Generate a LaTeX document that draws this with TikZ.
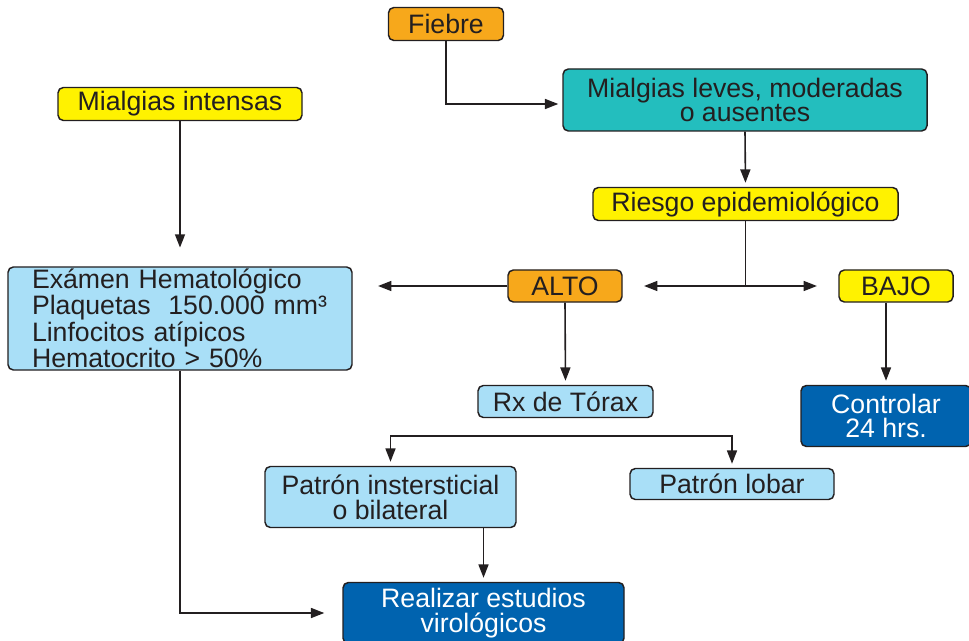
\documentclass[tikz,border=0pt]{standalone}
\usepackage{fontspec}
\setmainfont{Liberation Sans}
\usepackage{xcolor}
\usetikzlibrary{arrows.meta}
\definecolor{naranja}{HTML}{F7A81B}
\definecolor{turquesa}{HTML}{23BEBE}
\definecolor{amarillo}{HTML}{FFF200}
\definecolor{celeste}{HTML}{A9DFF7}
\definecolor{azul}{HTML}{0063AF}
\definecolor{linea}{HTML}{231F20}

\begin{document}
\begin{tikzpicture}[x=0.75pt,y=-0.75pt,
        caja/.style={draw=linea,line width=1.1pt,rounded corners=4pt,text=linea,align=center,
            inner sep=0pt,font=\fontsize{20}{18.5}\selectfont},
        oscura/.style={caja,fill=azul,text=white},
        flecha/.style={draw=linea,line width=1.2pt,-{Triangle[length=10pt,width=7.5pt]},shorten >=3pt}]
        \useasboundingbox (0,0) rectangle (969,641);
        \clip (0,0) rectangle (969,641);
        % cajas
        \node[caja,fill=naranja,minimum width=86.25pt,minimum height=24.75pt] (fiebre) at (446,24) {Fiebre};
        \node[caja,fill=turquesa,minimum width=273pt,minimum height=46.5pt] (mleves) at (745,100) {Mialgias leves, moderadas\\o ausentes};
        \node[caja,fill=amarillo,minimum width=183pt,minimum height=24.75pt] (mint) at (180,104) {Mialgias intensas};
        \node[caja,fill=amarillo,minimum width=228.75pt,minimum height=24.75pt] (riesgo) at (745.5,204) {Riesgo epidemiológico};
        \node[caja,fill=naranja,minimum width=85.5pt,minimum height=24pt] (alto) at (565,286) {ALTO};
        \node[caja,fill=amarillo,minimum width=85.5pt,minimum height=24pt] (bajo) at (896,286) {BAJO};
        \node[caja,fill=celeste,align=left,text width=222pt,inner xsep=18pt,minimum height=77.25pt] (exam) at (180,318.5)
            {Exámen Hematológico\\Plaquetas\ \ 150.000 mm³\\Linfocitos atípicos\\Hematocrito > 50\%};
        \node[caja,fill=celeste,minimum width=131.25pt,minimum height=24pt] (rx) at (565.5,401.5) {Rx de Tórax};
        \node[caja,fill=celeste,minimum width=188.25pt,minimum height=45.75pt] (pint) at (390.5,497) {Patrón instersticial\\o bilateral};
        \node[caja,fill=celeste,minimum width=153pt,minimum height=23.25pt] (plob) at (732,484) {Patrón lobar};
        \node[oscura,minimum width=127.5pt,minimum height=45.75pt] (ctrl) at (886,416) {Controlar\\24 hrs.};
        \node[oscura,minimum width=210.75pt,minimum height=45.75pt] (real) at (483.5,613) {Realizar estudios\\virológicos};
        \coordinate (rama) at (565,436);
        % flechas
        \draw[flecha] (fiebre.south) |- ([yshift=-3pt]mleves.west);
        \draw[flecha] (mleves.south) -- (riesgo.north);
        \draw[flecha,shorten >=16pt] (riesgo.south) |- (alto.east);
        \draw[flecha,shorten >=16pt] (riesgo.south) |- (bajo.west);
        \draw[flecha,shorten >=19pt] (alto.west) -- (exam.east |- alto.west);
        \draw[flecha,shorten >=14pt] (mint.south) -- (exam.north);
        \draw[flecha] (alto.south) -- (rx.north);
        \draw[flecha] (ctrl.north |- bajo.south) -- (ctrl.north);
        \draw[flecha] (rama) -| (pint.north);
        \draw[flecha] (rama) -| (plob.north);
        \draw[flecha] (real.north |- pint.south) -- (real.north);
        \draw[flecha,shorten >=13.5pt] (exam.south) |- (real.west);
    \end{tikzpicture}
\end{document}
